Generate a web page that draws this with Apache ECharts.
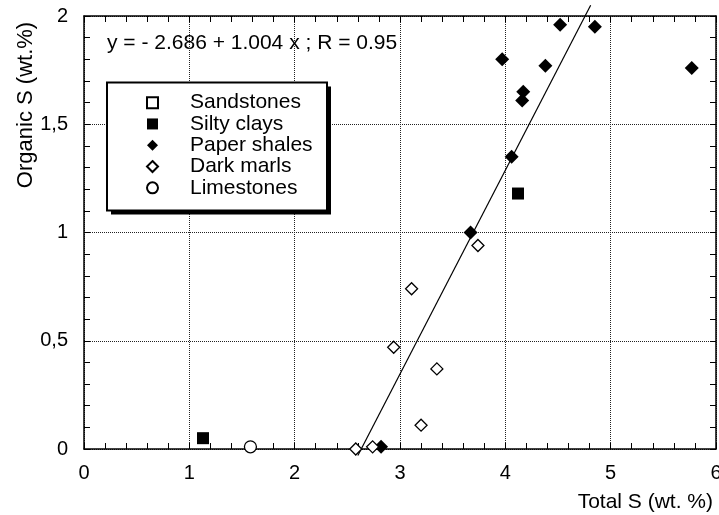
<!DOCTYPE html>
<html>
<head>
<meta charset="utf-8">
<script src="https://cdn.jsdelivr.net/npm/echarts@6/dist/echarts.min.js"></script>
<style>
  html, body { margin: 0; padding: 0; background: #fff; }
  #chart { width: 719px; height: 515px; }
</style>
</head>
<body>
<div id="chart"></div>
<script>
  // data: [Total S, Organic S]
  var sandstones = []
  var siltyClays = [[1.13, 0.05], [4.12, 1.18]]
  var paperShales = [
    [4.52, 1.96], [4.85, 1.95], [3.97, 1.80], [4.38, 1.77], [5.77, 1.76],
    [4.17, 1.65], [4.16, 1.61], [4.06, 1.35], [3.67, 1.00], [2.82, 0.01]
  ]
  var darkMarls = [
    [3.74, 0.94], [3.11, 0.74], [2.94, 0.47], [3.35, 0.37],
    [3.20, 0.11], [2.74, 0.01], [2.58, 0.00]
  ]
  var limestones = [[1.58, 0.01]]
  // regression line as drawn
  var fitLine = [[2.60, -0.03], [4.81, 2.05]]
  var equation = 'y = - 2.686 + 1.004 x ; R = 0.95'

  var font = "'Liberation Sans', Arial, sans-serif"
  var ink = '#000'

  function axisBase(pos) {
    return {
      type: 'value',
      position: pos,
      axisLine: { show: true, onZero: false, lineStyle: { color: ink, width: 1.5 } },
      axisTick: { show: true, inside: true, length: 6, lineStyle: { color: ink, width: 1 } },
      minorTick: { show: true, splitNumber: 5, length: 6, lineStyle: { color: ink, width: 1 } },
      splitLine: { show: false },
      axisLabel: { show: false }
    }
  }

  var xBottom = axisBase('bottom')
  xBottom.min = 0; xBottom.max = 6; xBottom.interval = 1
  xBottom.splitLine = { show: true, lineStyle: { type: 'dotted', color: '#222', width: 1 } }
  xBottom.axisLabel = { show: true, margin: 14, color: ink, fontSize: 20, fontFamily: font }
  var xTop = axisBase('top')
  xTop.min = 0; xTop.max = 6; xTop.interval = 1

  var yLeft = axisBase('left')
  yLeft.min = 0; yLeft.max = 2; yLeft.interval = 0.5
  yLeft.splitLine = { show: true, lineStyle: { type: 'dotted', color: '#222', width: 1 } }
  yLeft.axisLabel = {
    show: true, margin: 16, color: ink, fontSize: 20, fontFamily: font,
    formatter: function(v) { return String(v).replace('.', ',') }
  }
  var yRight = axisBase('right')
  yRight.min = 0; yRight.max = 2; yRight.interval = 0.5

  var openStyle = { color: '#fff', borderColor: ink, borderWidth: 1.3, opacity: 1 }
  var solidStyle = { color: ink, opacity: 1 }

  var chart = echarts.init(document.getElementById('chart'))
  var option = {
    animation: false,
    backgroundColor: '#fff',
    grid: { left: 84, right: 3, top: 16, bottom: 66, outerBoundsMode: 'none' },
    xAxis: [xBottom, xTop],
    yAxis: [yLeft, yRight],
    legend: {
      orient: 'vertical',
      left: 107,
      top: 83,
      z: 10,
      padding: [9, 20, 12, 39],
      itemWidth: 11,
      itemHeight: 11,
      itemGap: 0,
      textStyle: { color: ink, fontSize: 21, fontFamily: font, lineHeight: 21.3, padding: [0, 0, 0, 27] },
      data: ['Sandstones', 'Silty clays', 'Paper shales', 'Dark marls', 'Limestones']
    },
    graphic: [
      // legend frame with its drop shadow
      {
        type: 'rect', z: 8, silent: true,
        shape: { x: 111, y: 86.5, width: 220, height: 128 },
        style: { fill: ink }
      },
      {
        type: 'rect', z: 9, silent: true,
        shape: { x: 107, y: 82.5, width: 220, height: 128 },
        style: { fill: '#fff', stroke: ink, lineWidth: 2 }
      },
      {
        type: 'text', left: 107, top: 33,
        style: { text: equation, fill: ink, font: '21px ' + font }
      },
      {
        type: 'text', x: 26, y: 105, rotation: Math.PI / 2,
        style: { text: 'Organic S (wt.%)', fill: ink, font: '22px ' + font, align: 'center', verticalAlign: 'middle' }
      },
      {
        type: 'text', x: 713, y: 502,
        style: { text: 'Total S (wt. %)', fill: ink, font: '21px ' + font, align: 'right', verticalAlign: 'middle' }
      }
    ],
    series: [
      {
        name: 'fit', type: 'line', data: fitLine, clip: false, silent: true,
        showSymbol: false, symbol: 'none', z: 1,
        lineStyle: { color: ink, width: 1.2 }
      },
      { name: 'Sandstones', type: 'scatter', symbol: 'rect', symbolSize: 12, data: sandstones, itemStyle: openStyle, z: 3 },
      { name: 'Silty clays', type: 'scatter', symbol: 'rect', symbolSize: 12, data: siltyClays, itemStyle: solidStyle, z: 3 },
      { name: 'Paper shales', type: 'scatter', symbol: 'diamond', symbolSize: 14, data: paperShales, itemStyle: solidStyle, z: 3 },
      { name: 'Dark marls', type: 'scatter', symbol: 'diamond', symbolSize: 12, data: darkMarls, itemStyle: openStyle, z: 3 },
      { name: 'Limestones', type: 'scatter', symbol: 'circle', symbolSize: 12, data: limestones, itemStyle: openStyle, z: 3 }
    ]
  }
  chart.setOption(option)
</script>
</body>
</html>
